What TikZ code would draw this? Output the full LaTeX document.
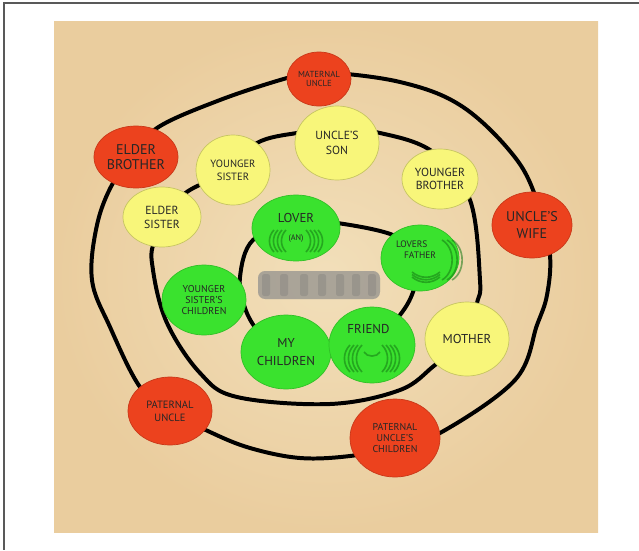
\documentclass[tikz,border=0pt]{standalone}
\usepackage{fontspec}
\setmainfont{PT Sans}
\usetikzlibrary{shapes.geometric}
\definecolor{paperin}{RGB}{242,223,186}
\definecolor{paperout}{RGB}{234,205,158}
\definecolor{farred}{RGB}{236,66,30}
\definecolor{midyellow}{RGB}{248,246,122}
\definecolor{neargreen}{RGB}{58,226,46}
\definecolor{scribble}{RGB}{20,120,20}
\begin{document}
\begin{tikzpicture}[x=0.03cm, y=-0.03cm,
    rel/.style = {ellipse, inner sep=0pt, align=center, text=black!85, line width=0.6pt},
    far/.style = {rel, fill=farred, draw=farred!85!black},
    mid/.style = {rel, fill=midyellow, draw=midyellow!80!black},
    near/.style = {rel, fill=neargreen, draw=neargreen!85!black},
    ring/.style = {line width=3.4pt, line join=round},
    scrib/.style = {draw=scribble, line width=1.4pt, opacity=.55}]
\useasboundingbox (0,0) rectangle (639,550);
\fill[black!65] (3,2) rectangle (5,550);
\fill[black!65] (3,2) rectangle (639,4);
\shade[inner color=paperin, outer color=paperout] (54,21) rectangle (598,532);

\draw[ring] plot[smooth cycle, tension=.6] coordinates {(318,72) (400,82) (463,107) (517,160) (540,210) (550,255) (547,295) (537,325) (515,380) (440,433) (395,447) (350,456) (300,458) (250,448) (210,432) (170,411) (140,387) (110,327) (92,280) (97,225) (113,183) (135,157) (157,128) (220,100) (287,78)};
\draw[ring] plot[smooth cycle, tension=.6] coordinates {(337,130) (380,133) (433,152) (470,200) (480,280) (477,303) (467,339) (435,365) (400,390) (330,404) (237,397) (200,373) (167,323) (153,270) (155,240) (183,195) (233,170) (257,143) (297,133)};
\draw[ring] plot[smooth cycle, tension=.6] coordinates {(296,222) (330,222) (393,235) (420,258) (413,292) (400,315) (380,335) (320,350) (270,340) (257,330) (245,308) (240,277) (253,240)};

\node[far, minimum width=1.92cm, minimum height=1.62cm, font=\fontsize{7.5}{8}\selectfont] (matuncle) at (319,79) {MATERNAL\\UNCLE};
\node[far, minimum width=2.52cm, minimum height=1.86cm, font=\fontsize{12}{13}\selectfont] (elderbro) at (136,157) {ELDER\\BROTHER};
\node[far, minimum width=2.4cm, minimum height=1.98cm, font=\fontsize{12}{14}\selectfont] (unclewife) at (532,225) {UNCLE'S\\WIFE};
\node[far, minimum width=2.52cm, minimum height=2.04cm, font=\fontsize{9}{11}\selectfont] (patuncle) at (170,411) {PATERNAL\\UNCLE};
\node[far, minimum width=2.7cm, minimum height=2.34cm, font=\fontsize{8.5}{9.5}\selectfont] (patchildren) at (395,438) {PATERNAL\\UNCLE'S\\CHILDREN};

\node[mid, minimum width=2.52cm, minimum height=2.22cm, font=\fontsize{10}{13}\selectfont] (uncleson) at (337,143) {UNCLE'S\\SON};
\node[mid, minimum width=2.22cm, minimum height=2.1cm, font=\fontsize{9}{11}\selectfont] (youngsis) at (233,170) {YOUNGER\\SISTER};
\node[mid, minimum width=2.34cm, minimum height=1.8cm, font=\fontsize{10}{12}\selectfont] (eldersis) at (162,217) {ELDER\\SISTER};
\node[mid, minimum width=2.28cm, minimum height=1.8cm, font=\fontsize{10}{11}\selectfont] (youngbro) at (440,179) {YOUNGER\\BROTHER};
\node[mid, minimum width=2.52cm, minimum height=2.22cm, font=\fontsize{11}{12}\selectfont] (mother) at (467,339) {MOTHER};

\node[near, minimum width=2.64cm, minimum height=1.98cm, font=\fontsize{11}{12}\selectfont] (lover) at (296,228) {LOVER\\[3pt]\fontsize{7}{7}\selectfont (AN)};
\node[near, minimum width=2.34cm, minimum height=1.98cm, font=\fontsize{8}{10}\selectfont] (loverfather) at (420,258) {LOVERS\hspace*{14pt}\\FATHER\hspace*{14pt}\\[4pt]\mbox{}};
\node[near, minimum width=2.52cm, minimum height=2.1cm, font=\fontsize{8.5}{9.5}\selectfont] (sischildren) at (204,300) {YOUNGER\\SISTER'S\\CHILDREN};
\node[near, minimum width=2.7cm, minimum height=2.22cm, font=\fontsize{11}{15}\selectfont] (mychildren) at (286,352) {MY\\CHILDREN};
\node[near, minimum width=2.58cm, minimum height=2.28cm, font=\fontsize{11}{12}\selectfont] (friend) at (372,345) {FRIEND\hspace*{6pt}\\[16pt]\mbox{}};

\foreach \d in {6,10,14,18}
  {\draw[scrib] (296-\d-4,230) to[bend right=45] (296-\d-4,252);
   \draw[scrib] (296+\d+4,230) to[bend left=45] (296+\d+4,252);}
\foreach \d in {6,10,14,18}
  {\draw[scrib] (372-\d-4,345) to[bend right=45] (372-\d-4,372);
   \draw[scrib] (372+\d+4,345) to[bend left=45] (372+\d+4,372);}
\draw[scrib] (364,352) to[bend right=60] (380,352);
\foreach \d in {4,9,14}
  {\draw[scrib] (438+\d,240) to[bend left=60] (438+\d,280);
   \draw[scrib] (412,270+\d/2) to[bend right=40] (440,270+\d/2);}

\foreach \o/\g in {.2/30,.3/40,.45/50}
  \fill[black!\g, opacity=\o, rounded corners=6pt] (258,271) rectangle (380,299);
\foreach \x in {262,280,300,318,336,352,368}
  \fill[black!55, opacity=.3, rounded corners=2pt] (\x,274) rectangle (\x+8,296);
\end{tikzpicture}
\end{document}
